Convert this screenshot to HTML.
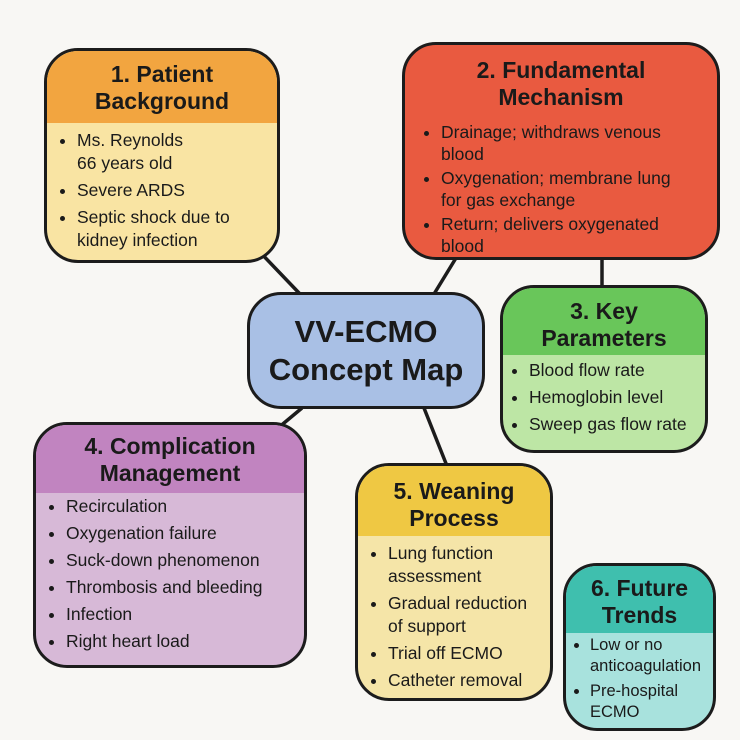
<!DOCTYPE html>
<html><head><meta charset="utf-8"><style>
body{margin:0;width:740px;height:740px;background:#f8f7f4;position:relative;overflow:hidden;font-family:"Liberation Sans",sans-serif;color:#1a1a1a}
.b{position:absolute;border:3px solid #1c1c1c;border-radius:34px;overflow:hidden;box-sizing:border-box}
.h{font-weight:bold;text-align:center;font-size:23px;line-height:27px;box-sizing:border-box}
ul{margin:0;padding:6px 0 0 30px;font-size:17.5px;line-height:23px}
li{margin-bottom:4px}
svg{position:absolute;left:0;top:0}
</style></head><body>
<svg width="740" height="740"><g stroke="#1c1c1c" stroke-width="3.5" fill="none">
<line x1="256" y1="248" x2="300" y2="294"/>
<line x1="456" y1="258" x2="434" y2="294"/>
<line x1="602" y1="255" x2="602" y2="288"/>
<line x1="302" y1="408" x2="278" y2="428"/>
<line x1="424" y1="408" x2="447" y2="466"/>
</g></svg>

<div class="b" style="left:44px;top:48px;width:236px;height:215px;background:#f9e4a3">
<div class="h" style="background:#f2a540;height:72px;padding-top:10px">1. Patient<br>Background</div>
<ul><li>Ms. Reynolds<br>66 years old</li><li>Severe ARDS</li><li>Septic shock due to kidney infection</li></ul></div>

<div class="b" style="left:402px;top:42px;width:318px;height:218px;background:#e95a40">
<div class="h" style="height:68px;padding-top:12px">2. Fundamental<br>Mechanism</div>
<ul style="padding-top:8px;padding-left:36px;padding-right:26px;font-size:17.5px;line-height:22px"><li style="margin-bottom:2px">Drainage; withdraws venous blood</li><li style="margin-bottom:2px">Oxygenation; membrane lung for gas exchange</li><li>Return; delivers oxygenated blood</li></ul></div>

<div class="b" style="left:247px;top:292px;width:238px;height:117px;background:#a9c0e5;display:flex;align-items:center;justify-content:center;text-align:center;font-weight:bold;font-size:31px;line-height:38px">VV-ECMO<br>Concept Map</div>

<div class="b" style="left:500px;top:285px;width:208px;height:168px;background:#bde6a5">
<div class="h" style="background:#69c65a;height:67px;padding-top:10px">3. Key<br>Parameters</div>
<ul style="padding-left:26px;padding-top:4px"><li>Blood flow rate</li><li>Hemoglobin level</li><li>Sweep gas flow rate</li></ul></div>

<div class="b" style="left:33px;top:422px;width:274px;height:246px;background:#d7b9d7">
<div class="h" style="background:#c184c0;height:68px;padding-top:8px">4. Complication<br>Management</div>
<ul style="padding-top:2px"><li>Recirculation</li><li>Oxygenation failure</li><li>Suck-down phenomenon</li><li>Thrombosis and bleeding</li><li>Infection</li><li>Right heart load</li></ul></div>

<div class="b" style="left:355px;top:463px;width:198px;height:238px;background:#f5e5a8">
<div class="h" style="background:#efc843;height:70px;padding-top:12px">5. Weaning<br>Process</div>
<ul style="padding-right:14px"><li>Lung function assessment</li><li>Gradual reduction of support</li><li>Trial off ECMO</li><li>Catheter removal</li></ul></div>

<div class="b" style="left:563px;top:563px;width:153px;height:168px;background:#a8e2dd">
<div class="h" style="background:#3fbfae;height:67px;padding-top:9px">6. Future<br>Trends</div>
<ul style="padding-left:24px;padding-top:2px;font-size:16.5px;line-height:21px"><li>Low or no anticoagulation</li><li>Pre-hospital ECMO</li></ul></div>
</body></html>
